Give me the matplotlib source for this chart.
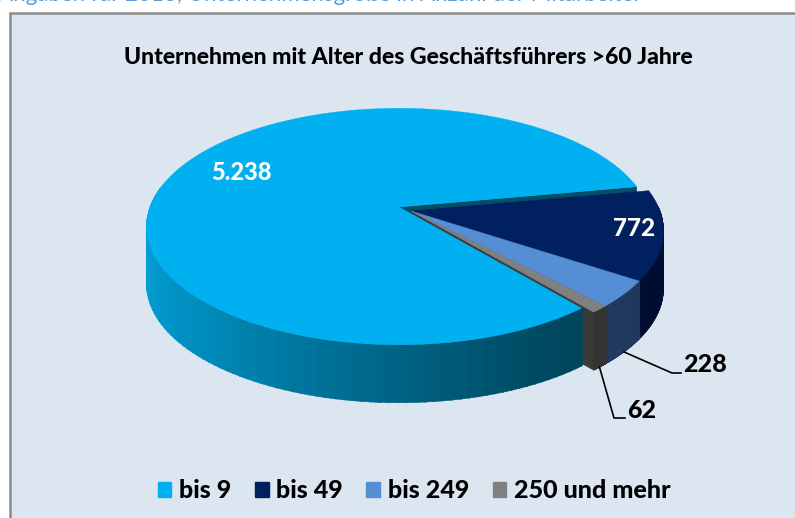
import numpy as np
import matplotlib.pyplot as plt
from matplotlib.patches import Polygon, Rectangle, Patch
from matplotlib.colors import to_rgb

header = "Angaben für 2016, Unternehmensgröße in Anzahl der Mitarbeiter"
title = "Unternehmen mit Alter des Geschäftsführers >60 Jahre"
categories = ["bis 9", "bis 49", "bis 249", "250 und mehr"]
values = [5238, 772, 228, 62]
value_labels = ["5.238", "772", "228", "62"]

top_colors = ["#00B0F0", "#002060", "#558ED5", "#808080"]
side_colors = ["#006A8C", "#000D33", "#22395F", "#333333"]
wall_colors = ["#004E68", "#001040", "#1E3458", "#3A3A3A"]

# pie geometry in pixel space (perspective ellipse)
CX, CY = 399, 207
RX, RY, K = 249, 115, 0.165
DEPTH = 58
START = -50.2
EXPLODE = [(0, 0), (12, 4), (12, 4), (12, 4)]


def proj(th, ox=0, oy=0, dz=0):
    t = np.radians(th)
    w = 1 + K * np.sin(t)
    return CX + ox + RX * np.cos(t) / w, CY + oy - RY * np.sin(t) / w + dz


def arc(a, b, ox, oy, dz=0, n=120):
    th = np.linspace(a, b, n)
    x, y = proj(th, ox, oy, dz)
    return np.column_stack([x, y])


def blend(c1, c2, f):
    c1, c2 = np.array(to_rgb(c1)), np.array(to_rgb(c2))
    return tuple(c1 + (c2 - c1) * f)


fig = plt.figure(figsize=(7.95, 5.18), dpi=100)
ax = fig.add_axes([0, 0, 1, 1])
ax.set_xlim(0, 795)
ax.set_ylim(518, 0)
ax.axis("off")

ax.add_patch(Rectangle((10, 13), 800, 520, facecolor="#DCE6F1",
                       edgecolor="#8C8C8C", lw=1.8, zorder=0))
ax.text(-2, 1, header, fontsize=16, color="#5B9BD5", family="Lato",
        va="baseline", ha="left", zorder=1)
ax.text(408, 57, title, fontsize=16.6, fontweight="black", family="Lato",
        ha="center", va="center", color="black")

total = float(sum(values))
spans = [360.0 * v / total for v in values]
edges = START - np.concatenate([[0], np.cumsum(spans)])
slices = [(edges[i + 1] % 360, edges[i + 1] % 360 + spans[i]) for i in range(len(values))]


def wall(i, ang, z):
    ox, oy = EXPLODE[i]
    c = (CX + ox, CY + oy)
    rt = proj(ang, ox, oy)
    rb = proj(ang, ox, oy, DEPTH)
    pts = [c, rt, rb, (c[0], c[1] + DEPTH)]
    ax.add_patch(Polygon(pts, closed=True, facecolor=wall_colors[i],
                         edgecolor=wall_colors[i], lw=0.3, zorder=z))


def side(i, z, grad=None):
    a, b = slices[i]
    ox, oy = EXPLODE[i]
    lo, hi = max(a, 170), min(b, 365)
    if i > 0:
        lo, hi = a, min(b, 362)
    if hi <= lo:
        return
    n = 80
    th = np.linspace(lo, hi, n + 1)
    for j in range(n):
        t0, t1 = th[j], th[j + 1] + 0.3
        xt, yt = proj(np.array([t0, t1]), ox, oy)
        xb, yb = proj(np.array([t1, t0]), ox, oy, DEPTH)
        if grad is not None:
            f = np.clip((xt.mean() - 150) / 420.0, 0, 1)
            col = blend(grad[0], grad[1], f ** 0.8)
        else:
            col = side_colors[i]
        pts = np.column_stack([np.r_[xt, xb], np.r_[yt, yb]])
        ax.add_patch(Polygon(pts, closed=True, facecolor=col, edgecolor=col,
                             lw=0.4, zorder=z))


def top(i, z):
    a, b = slices[i]
    ox, oy = EXPLODE[i]
    pts = np.vstack([[CX + ox, CY + oy], arc(a, b, ox, oy)])
    ax.add_patch(Polygon(pts, closed=True, facecolor=top_colors[i],
                         edgecolor=top_colors[i], lw=0.3, zorder=z))


# painter order
for i in range(len(values)):
    a, b = slices[i]
    if np.cos(np.radians(a)) > 0:
        wall(i, a, 2 if i == 0 else 3)
    if np.cos(np.radians(b)) < 0:
        wall(i, b, 3)
side(0, 4, grad=("#009CD2", "#00465C"))
for i in range(1, len(values)):
    side(i, 5)
for i in range(1, len(values)):
    top(i, 6)
top(0, 7)

# value labels
ax.text(241, 172, value_labels[0], color="white", fontsize=17, fontweight="black",
        family="Lato", ha="center", va="center", zorder=10)
ax.text(634, 229, value_labels[1], color="white", fontsize=17.5, fontweight="black",
        family="Lato", ha="center", va="center", zorder=10)

label_pos = {2: (683, 364, 672, 373), 3: (627, 410, 614, 418)}
for i, (tx, ty, ex, ey) in label_pos.items():
    a, b = slices[i]
    ox, oy = EXPLODE[i]
    sx, sy = proj((a + b) / 2, ox, oy, DEPTH)
    ax.plot([sx, ex, tx - 2], [sy, ey, ey], color="black", lw=1.2, zorder=9)
    ax.text(tx, ty, value_labels[i], color="black", fontsize=18, fontweight="black",
            family="Lato", ha="left", va="center", zorder=10)

handles = [Patch(facecolor=c, edgecolor=c) for c in top_colors]
leg = fig.legend(handles, categories, loc="center", bbox_to_anchor=(414 / 795, 1 - 491 / 518),
                 ncol=4, frameon=False, handlelength=0.55, handleheight=0.55,
                 handletextpad=0.3, columnspacing=0.95,
                 prop={"family": "Lato", "weight": "black", "size": 18})

fig.savefig("out.png", dpi=100, facecolor="white")
